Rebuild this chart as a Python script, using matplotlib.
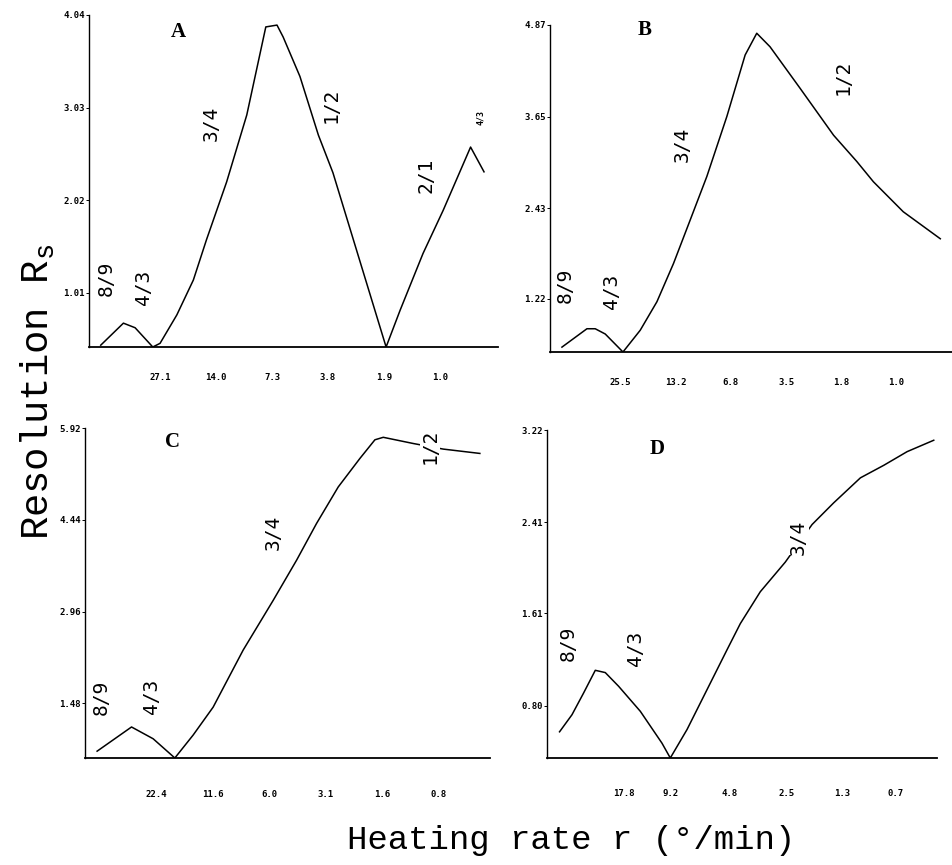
import matplotlib
matplotlib.use("Agg")
import matplotlib.pyplot as plt

# x is the position along the (log) heating-rate axis, in units of one tick step
# panel A
a_x = [-1.06, -0.655, -0.446, -0.13, 0.0, 0.30, 0.595, 0.83, 1.19, 1.55, 1.89, 1.99, 2.09,
       2.20, 2.50, 2.83, 3.09, 3.51, 4.04, 4.29, 4.70, 5.06, 5.55, 5.79]
a_rs = [0.44, 0.68, 0.63, 0.42, 0.46, 0.77, 1.15, 1.59, 2.22, 2.95, 3.91, 3.92, 3.93,
        3.80, 3.37, 2.73, 2.32, 1.48, 0.42, 0.82, 1.44, 1.91, 2.60, 2.33]
a_rates = ["27.1", "14.0", "7.3", "3.8", "1.9", "1.0"]
a_rate_pos = [0, 1, 2, 3, 4, 5]
a_yticks = [1.01, 2.02, 3.03, 4.04]
a_pairs = ["8/9", "4/3", "3/4", "1/2", "2/1"]
a_pair_x = [-0.964, -0.298, 0.923, 3.05, 4.76]
a_pair_y = [1.17, 1.07, 2.86, 3.05, 2.29]

# panel B
b_x = [-1.054, -0.602, -0.452, -0.271, 0.05, 0.362, 0.664, 0.964, 1.266, 1.567, 1.929,
       2.26, 2.47, 2.71, 3.25, 3.86, 4.28, 4.58, 5.12, 5.79]
b_rs = [0.575, 0.82, 0.82, 0.75, 0.51, 0.80, 1.18, 1.69, 2.27, 2.85, 3.65,
        4.47, 4.76, 4.58, 4.03, 3.40, 3.05, 2.78, 2.38, 2.02]
b_rates = ["25.5", "13.2", "6.8", "3.5", "1.8", "1.0"]
b_rate_pos = [0, 1, 2, 3, 4, 5]
b_yticks = [1.22, 2.43, 3.65, 4.87]
b_pairs = ["8/9", "4/3", "3/4", "1/2"]
b_pair_x = [-0.995, -0.15, 1.116, 4.04]
b_pair_y = [1.40, 1.32, 3.28, 4.17]

# panel C
c_x = [-1.055, -0.444, -0.06, 0.325, 0.65, 1.005, 1.538, 2.07, 2.487, 2.84, 3.226,
       3.611, 3.877, 4.025, 4.558, 5.09, 5.74]
c_rs = [0.71, 1.10, 0.91, 0.60, 0.97, 1.42, 2.34, 3.14, 3.79, 4.38, 4.97,
        5.43, 5.73, 5.77, 5.67, 5.58, 5.51]
c_rates = ["22.4", "11.6", "6.0", "3.1", "1.6", "0.8"]
c_rate_pos = [0, 1, 2, 3, 4, 5]
c_yticks = [1.48, 2.96, 4.44, 5.92]
c_pairs = ["8/9", "4/3", "3/4", "1/2"]
c_pair_x = [-0.977, -0.089, 2.07, 4.854]
c_pair_y = [1.57, 1.60, 4.23, 5.63]

# panel D
d_x = [-1.179, -0.95, -0.737, -0.521, -0.337, -0.092, 0.308, 0.707, 0.86, 1.168, 1.536,
       1.904, 2.149, 2.517, 2.977, 3.47, 3.867, 4.36, 4.79, 5.22, 5.71]
d_rs = [0.57, 0.72, 0.91, 1.11, 1.09, 0.97, 0.75, 0.47, 0.34, 0.59, 0.94,
        1.29, 1.52, 1.80, 2.06, 2.39, 2.58, 2.80, 2.91, 3.03, 3.13]
d_rates = ["17.8", "9.2", "4.8", "2.5", "1.3", "0.7"]
d_rate_pos = [0, 0.86, 1.96, 3.0, 4.02, 5.0]
d_yticks = [0.80, 1.61, 2.41, 3.22]
d_pairs = ["8/9", "4/3", "3/4"]
d_pair_x = [-1.013, 0.215, 3.223]
d_pair_y = [1.35, 1.30, 2.28]


def draw_panel(ax, x, rs, rates, rate_pos, yticks, pairs, px, py, letter, lpos, xlim, ylim, xpad):
    ax.plot(x, rs, color="black", lw=1.1, zorder=2)
    for t, tx, ty in zip(pairs, px, py):
        ax.text(tx, ty, t, rotation=90, ha="center", va="center", fontsize=14,
                family="DejaVu Sans Mono", zorder=3,
                bbox=dict(facecolor="white", edgecolor="none", pad=0.5))
    ax.text(lpos[0], lpos[1], letter, ha="center", va="center", fontsize=15,
            family="Liberation Serif", fontweight="bold")
    ax.set_xlim(xlim)
    ax.set_ylim(ylim)
    ax.set_xticks(rate_pos)
    ax.set_xticklabels(rates)
    ax.set_yticks(yticks)
    ax.set_yticklabels(["%.2f" % v for v in yticks])
    for lab in ax.get_xticklabels() + ax.get_yticklabels():
        lab.set_family("DejaVu Sans Mono")
        lab.set_fontweight("bold")
        lab.set_fontsize(6.5)
    ax.tick_params(axis="x", length=0, pad=xpad)
    ax.tick_params(axis="y", length=2, width=0.7, pad=1)
    for s in ["top", "right"]:
        ax.spines[s].set_visible(False)
    ax.spines["left"].set_linewidth(1.0)
    ax.spines["bottom"].set_linewidth(1.3)


W, H = 953, 865
fig = plt.figure(figsize=(W / 100, H / 100), dpi=100)


def add_ax(left, top, right, bottom):
    return fig.add_axes([left / W, 1 - bottom / H, (right - left) / W, (bottom - top) / H])


ax_a = add_ax(89, 15, 498, 347)
draw_panel(ax_a, a_x, a_rs, a_rates, a_rate_pos, a_yticks, a_pairs, a_pair_x, a_pair_y,
           "A", (0.32, 3.85), (-1.27, 6.04), (0.42, 4.04), 19)
ax_a.text(5.73, 2.92, "4/3", rotation=90, ha="center", va="center", fontsize=6,
          family="DejaVu Sans Mono", fontweight="bold")

ax_b = add_ax(550, 25, 953, 352)
draw_panel(ax_b, b_x, b_rs, b_rates, b_rate_pos, b_yticks, b_pairs, b_pair_x, b_pair_y,
           "B", (0.434, 4.80), (-1.27, 6.02), (0.51, 4.87), 19)

ax_c = add_ax(85, 428, 490, 758)
draw_panel(ax_c, c_x, c_rs, c_rates, c_rate_pos, c_yticks, c_pairs, c_pair_x, c_pair_y,
           "C", (0.29, 5.69), (-1.27, 5.92), (0.60, 5.92), 23)

ax_d = add_ax(547, 430, 937, 758)
draw_panel(ax_d, d_x, d_rs, d_rates, d_rate_pos, d_yticks, d_pairs, d_pair_x, d_pair_y,
           "D", (0.62, 3.05), (-1.41, 5.77), (0.34, 3.22), 22)

fig.text(571 / W, 1 - 840 / H, "Heating rate r (\u00b0/min)", ha="center", va="center",
         fontsize=24.5, family="Liberation Mono")
fig.text(38 / W, 1 - 392 / H, "Resolution R$_\\mathregular{s}$", ha="center", va="center",
         rotation=90, fontsize=28, family="Liberation Mono")

fig.savefig("out.png", dpi=100)
